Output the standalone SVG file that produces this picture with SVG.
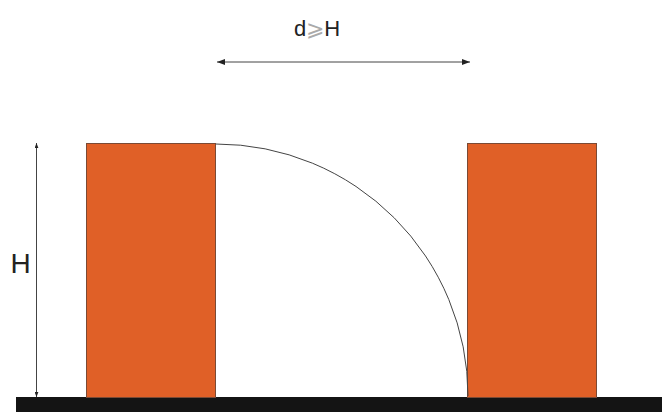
<svg xmlns="http://www.w3.org/2000/svg" width="662" height="412" viewBox="0 0 662 412">
<style>
.bldg{fill:#e06027;stroke:#7a4a35;stroke-width:1}
.dim{stroke:#444;stroke-width:1;fill:none}
.lbl{font-family:"Liberation Sans",Arial,sans-serif;fill:#222}
</style>
<defs>
<marker id="ah" viewBox="0 0 8 6" refX="8" refY="3" markerWidth="8" markerHeight="6" markerUnits="userSpaceOnUse" orient="auto-start-reverse">
<path d="M0,0 L8,3 L0,6 Z" fill="#222"/>
</marker>
<marker id="ahs" viewBox="0 0 8 6" refX="8" refY="3" markerWidth="5" markerHeight="4" markerUnits="userSpaceOnUse" orient="auto-start-reverse">
<path d="M0,0 L8,3 L0,6 Z" fill="#222"/>
</marker>
</defs>
<rect width="662" height="412" fill="#fff"/>
<g id="ground"><rect x="16" y="397" width="646" height="15" fill="#141414"/></g>
<g id="building-left"><rect class="bldg" x="86.5" y="143.5" width="129" height="254"/></g>
<g id="building-right"><rect class="bldg" x="467.5" y="143.5" width="129" height="254"/></g>
<g id="connectors">
<path class="dim" d="M216,144 A252,252 0 0 1 468,396" stroke="#555"/>
<line class="dim" x1="217" y1="62" x2="470" y2="62" marker-start="url(#ah)" marker-end="url(#ah)"/>
<line class="dim" x1="36.5" y1="143" x2="36.5" y2="397" stroke="#666" marker-start="url(#ahs)" marker-end="url(#ahs)"/>
</g>
<g id="labels">
<text class="lbl" x="317" y="36" font-size="22" text-anchor="middle">d<tspan fill="#aaa">⩾</tspan>H</text>
<text class="lbl" x="20.5" y="273" font-size="28" text-anchor="middle">H</text>
</g>
</svg>
